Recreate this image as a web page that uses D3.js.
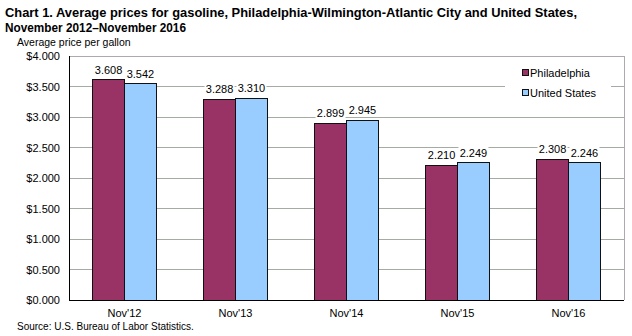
<!DOCTYPE html>
<html><head><meta charset="utf-8">
<script src="https://cdn.jsdelivr.net/npm/d3@7"></script>
<style>body{margin:0;background:#fff}svg{display:block}text{font-family:Arial,"Liberation Sans",sans-serif}</style>
</head><body><svg id="c" width="632" height="336"></svg>
<script>
const categories = ["Nov'12","Nov'13","Nov'14","Nov'15","Nov'16"];
const philadelphia = [3.608, 3.288, 2.899, 2.210, 2.308];
const unitedStates = [3.542, 3.310, 2.945, 2.249, 2.246];
const seriesNames = ["Philadelphia","United States"];
const seriesColors = ["#993366","#99ccff"];
const yTicks = [0,0.5,1,1.5,2,2.5,3,3.5,4];

const svg = d3.select("#c");
const L=69, R=624, T=56, B=300;
const y = d3.scaleLinear().domain([0,4]).range([B,T]);
const x = d3.scaleBand().domain(categories).range([L,R]).paddingInner(0.425).paddingOuter(0.2125);
const xs = d3.scaleBand().domain(seriesNames).range([0,x.bandwidth()]);

// title
svg.append("text").attr("x",5).attr("y",17).attr("font-size",13).attr("font-weight","bold")
  .attr("textLength",572).attr("lengthAdjust","spacingAndGlyphs")
  .text("Chart 1. Average prices for gasoline, Philadelphia-Wilmington-Atlantic City and United States,");
svg.append("text").attr("x",5).attr("y",32).attr("font-size",13).attr("font-weight","bold")
  .attr("textLength",181).attr("lengthAdjust","spacingAndGlyphs")
  .text("November 2012\u2013November 2016");
svg.append("text").attr("x",17).attr("y",46).attr("font-size",10.5).text("Average price per gallon");

// gridlines
svg.append("g").selectAll("line").data(yTicks.filter(d=>d>0)).join("line")
  .attr("x1",L).attr("x2",R).attr("y1",d=>y(d)).attr("y2",d=>y(d))
  .attr("stroke","#a3aba3").attr("stroke-width",1).attr("shape-rendering","crispEdges");
// frame top/right
svg.append("path").attr("d",`M${L},${T}H${R}V${B}`).attr("fill","none").attr("stroke","#b0a8b0").attr("shape-rendering","crispEdges");

// legend background
svg.append("rect").attr("x",505).attr("y",60).attr("width",106).attr("height",46).attr("fill","#fff");

// y axis
const yAxis = d3.axisLeft(y).tickValues(yTicks).tickSize(0).tickPadding(9).tickFormat(d=>"$"+d3.format(".3f")(d));
const ga = svg.append("g").attr("transform",`translate(${L},0)`).call(yAxis);
ga.select(".domain").remove();
ga.selectAll("text").attr("font-size",11).attr("font-family","Arial,'Liberation Sans',sans-serif").attr("fill","#000");

// bars
const data = categories.map((c,i)=>({c, vals:[philadelphia[i],unitedStates[i]]}));
const grp = svg.append("g").selectAll("g").data(data).join("g").attr("transform",d=>`translate(${x(d.c)},0)`);
grp.selectAll("rect.b").data(d=>d.vals.map((v,j)=>({v,s:seriesNames[j],col:seriesColors[j]}))).join("rect").attr("class","b")
  .attr("x",d=>xs(d.s)).attr("width",xs.bandwidth()).attr("y",d=>y(d.v)).attr("height",d=>B-y(d.v))
  .attr("fill",d=>d.col).attr("stroke","#111").attr("stroke-width",1).attr("shape-rendering","crispEdges");
const lbl = grp.selectAll("g.v").data(d=>d.vals.map((v,j)=>({v,s:seriesNames[j]}))).join("g").attr("class","v");
lbl.append("rect").attr("x",d=>xs(d.s)+xs.bandwidth()/2-15).attr("y",d=>y(d.v)-16).attr("width",30).attr("height",12).attr("fill","#fff");
lbl.append("text")
  .attr("x",d=>xs(d.s)+xs.bandwidth()/2).attr("y",d=>y(d.v)-6).attr("text-anchor","middle")
  .attr("font-size",11).text(d=>d3.format(".3f")(d.v));

// axes lines
svg.append("line").attr("x1",L).attr("x2",L).attr("y1",T).attr("y2",B).attr("stroke","#000").attr("shape-rendering","crispEdges");
svg.append("line").attr("x1",L).attr("x2",R).attr("y1",B).attr("y2",B).attr("stroke","#000").attr("shape-rendering","crispEdges");

// x axis
const xAxis = d3.axisBottom(x).tickSize(0).tickPadding(9);
const gx = svg.append("g").attr("transform",`translate(0,${B})`).call(xAxis);
gx.select(".domain").remove();
gx.selectAll("text").attr("font-size",11).attr("font-family","Arial,'Liberation Sans',sans-serif").attr("fill","#000");

// legend
const lg = svg.append("g").selectAll("g").data(seriesNames).join("g")
  .attr("transform",(d,i)=>`translate(522,${69+i*20})`);
lg.append("rect").attr("width",6).attr("height",6).attr("x",0.5).attr("y",0.5)
  .attr("fill",(d,i)=>seriesColors[i]).attr("stroke","#111").attr("shape-rendering","crispEdges");
lg.append("text").attr("x",8).attr("y",8).attr("font-size",11).text(d=>d);

// source
svg.append("text").attr("x",17).attr("y",330).attr("font-size",10).text("Source: U.S. Bureau of Labor Statistics.");
</script></body></html>
